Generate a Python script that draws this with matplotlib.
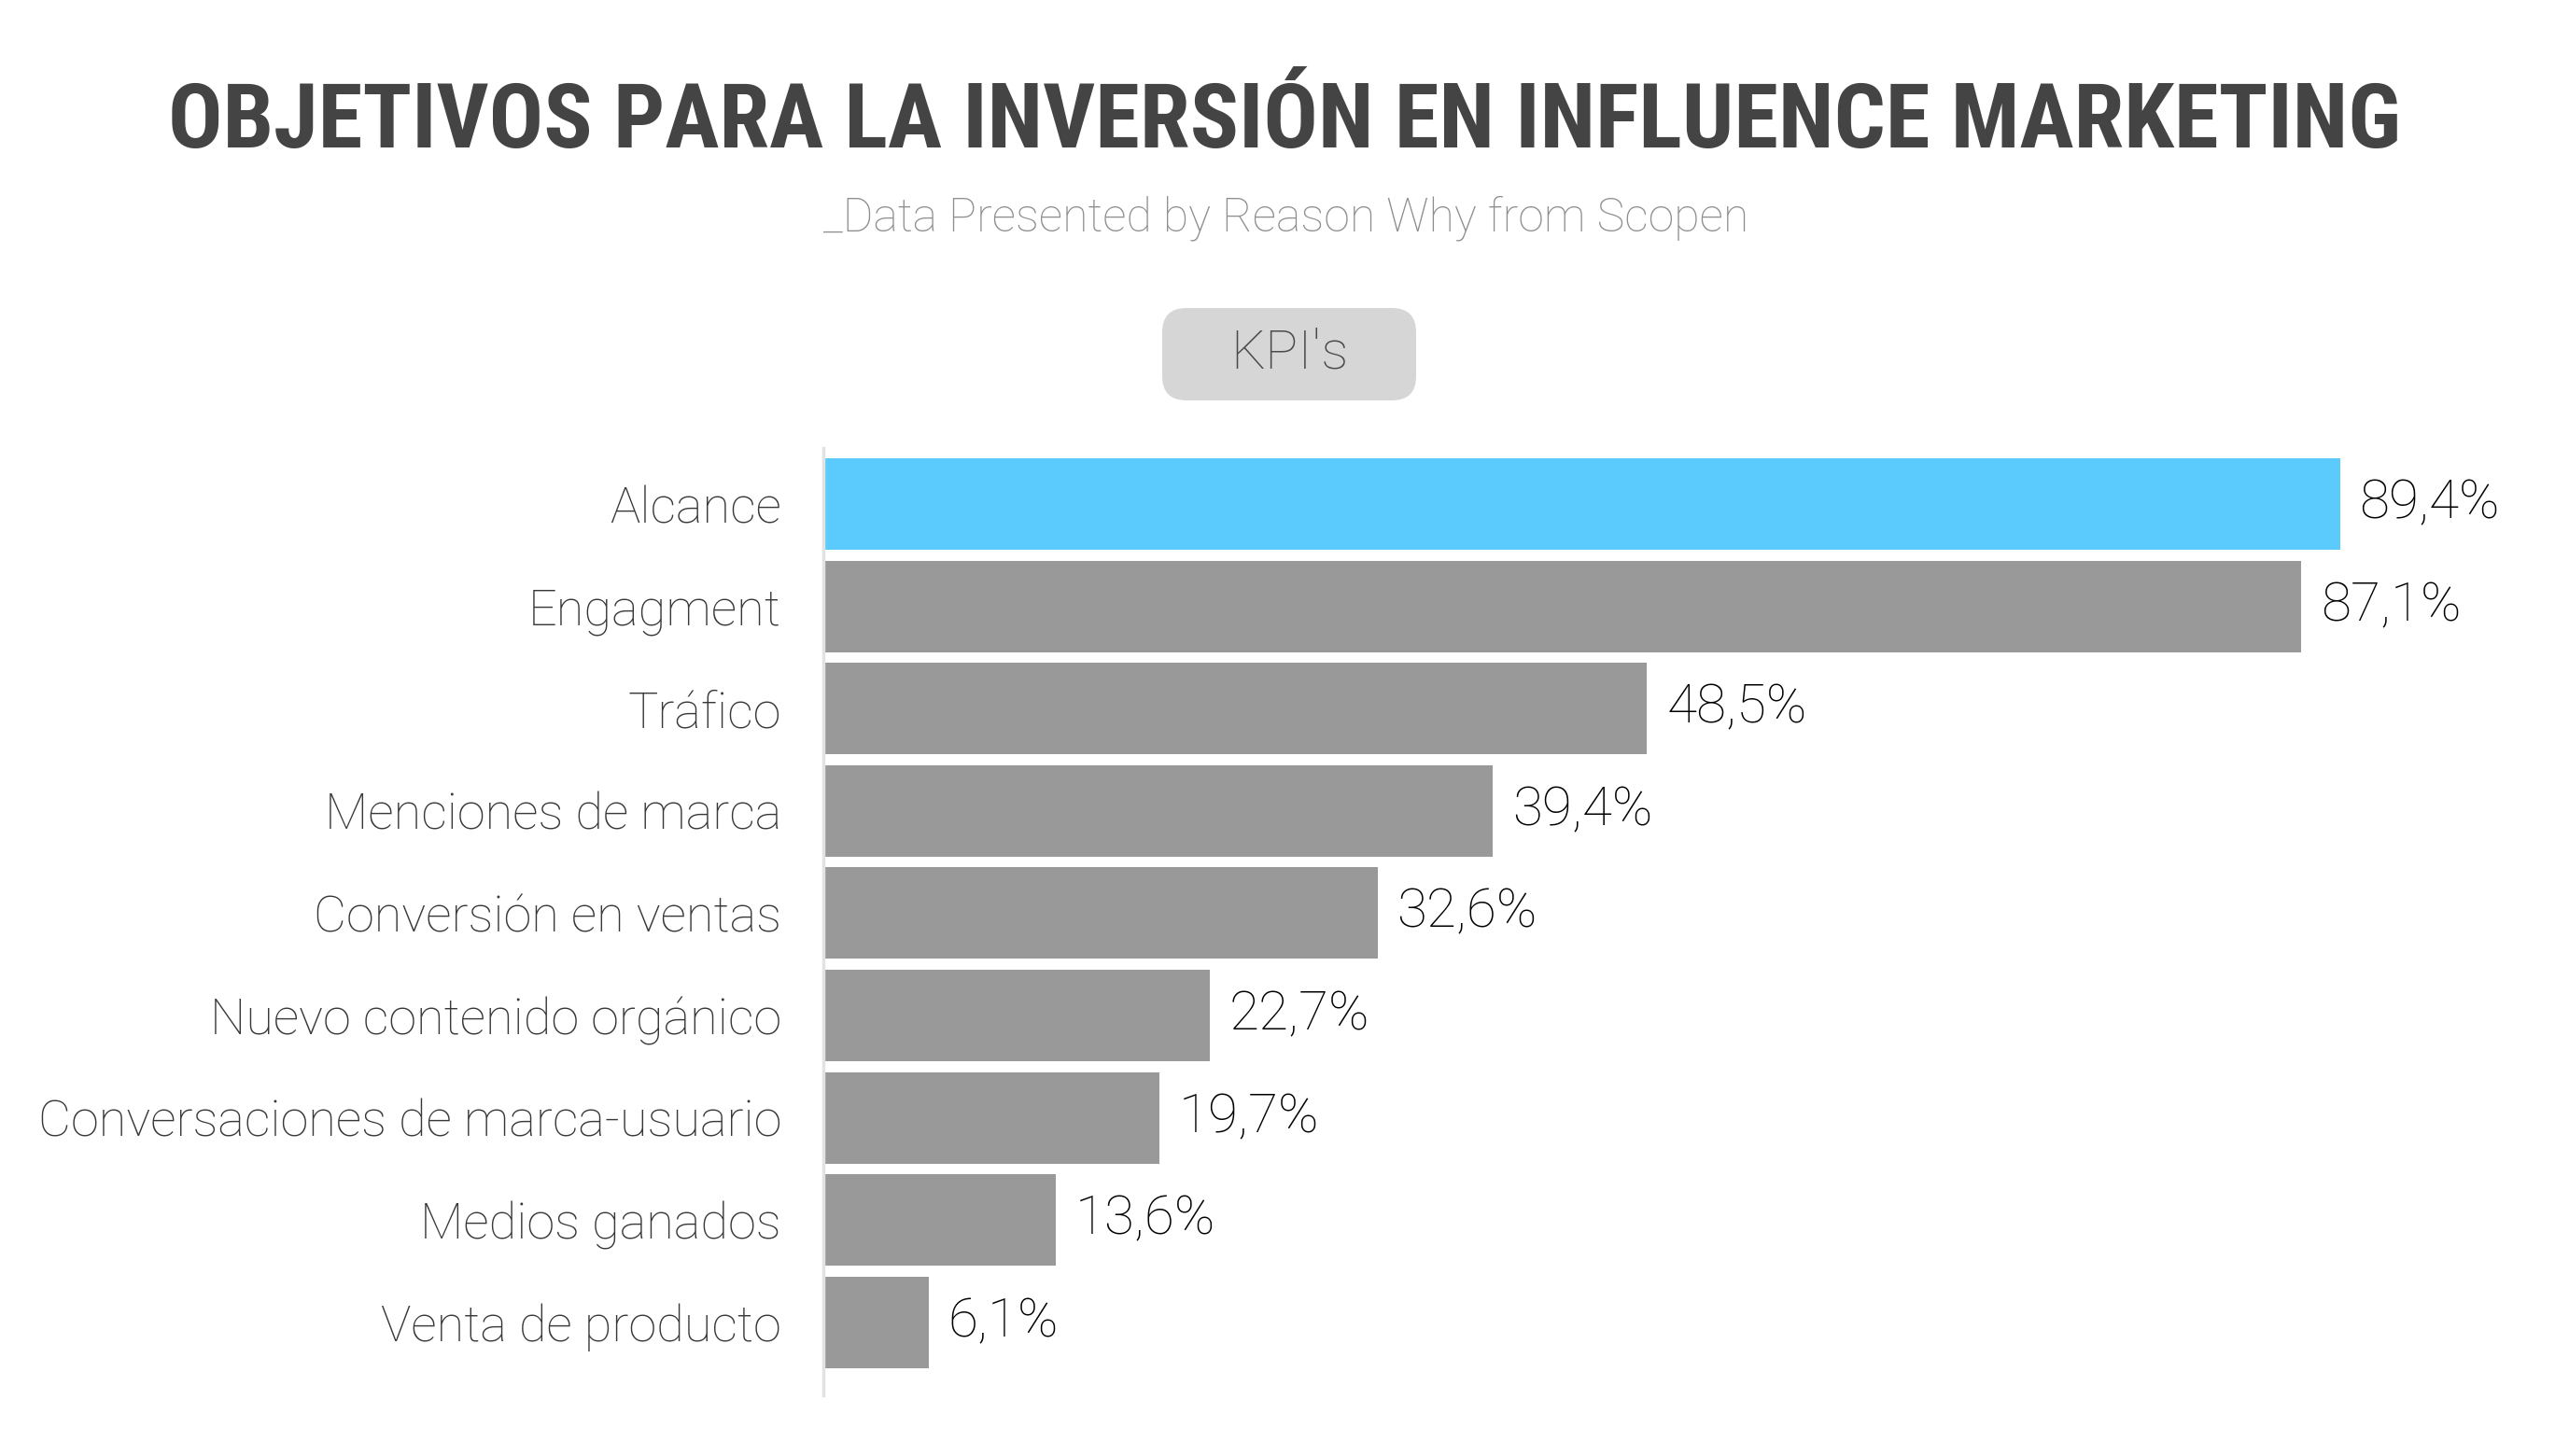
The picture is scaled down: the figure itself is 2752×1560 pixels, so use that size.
import matplotlib
matplotlib.use("Agg")
import matplotlib.pyplot as plt
from matplotlib.patches import FancyBboxPatch

# KPI data (percent of respondents)
categories = ["Alcance", "Engagment", "Tráfico", "Menciones de marca",
              "Conversión en ventas", "Nuevo contenido orgánico",
              "Conversaciones de marca-usuario", "Medios ganados",
              "Venta de producto"]
values = [89.4, 87.1, 48.5, 39.4, 32.6, 22.7, 19.7, 13.6, 6.1]
value_labels = ["89,4%", "87,1%", "48,5%", "39,4%", "32,6%",
                "22,7%", "19,7%", "13,6%", "6,1%"]

title = "OBJETIVOS PARA LA INVERSIÓN EN INFLUENCE MARKETING"
subtitle = "_Data Presented by Reason Why from Scopen"
box_label = "KPI's"

W, H = 2752, 1560
fig = plt.figure(figsize=(W / 100, H / 100), dpi=100)
fig.patch.set_facecolor("white")

def fx(px):
    return px / W

def fy(py):
    return 1 - py / H

body = dict(family=["Roboto", "DejaVu Sans"], weight="light")

# axes placed so that the spine sits at x=881 and spans y 480..1495
ax = fig.add_axes([fx(881.5), fy(1495), fx(2752 - 881.5), (1495 - 480) / H])
ypos = list(range(len(categories)))
colors = ["#5bcbfd"] + ["#999999"] * (len(values) - 1)
ax.barh(ypos, values, height=0.894, color=colors, left=0)
ax.set_xlim(-0.14, (2752 - 881.5) / 18.15 - 0.14)
ax.set_ylim(8.714, -0.547)

for spine in ["top", "right", "bottom"]:
    ax.spines[spine].set_visible(False)
ax.spines["left"].set_color("#e2e2e2")
ax.spines["left"].set_linewidth(2.5)
ax.set_xticks([])
ax.set_yticks(ypos)
ax.set_yticklabels(categories, fontsize=39, color="#383838", **body)
ax.tick_params(axis="y", length=0, pad=32)

for y, v, lab in zip(ypos, values, value_labels):
    ax.annotate(lab, (v, y), xytext=(15, 0), textcoords="offset points",
                va="center", ha="left", fontsize=42, color="#000000", **body)

# title, fitted to the reference width
t = fig.text(fx(1376), fy(158), title, ha="center", va="baseline",
             fontsize=86, color="#444444", weight="bold", stretch="condensed",
             family=["Roboto Condensed", "Open Sans Condensed", "DejaVu Sans"])
fig.canvas.draw()
w = t.get_window_extent().width
t.set_fontsize(86 * min(1.0, 2394 / w))

fig.text(fx(1378), fy(248), subtitle, ha="center", va="baseline",
         fontsize=36, color="#8e8e8e", **body)

# rounded KPI's box, drawn in inches so the corners stay round
bx0, bx1, by0, by1, r = 1245, 1517, 330, 429, 26
box = FancyBboxPatch(((bx0 + r) / 100, (H - by1 + r) / 100),
                     (bx1 - bx0 - 2 * r) / 100, (by1 - by0 - 2 * r) / 100,
                     boxstyle=f"round,pad={r / 100},rounding_size={r / 100}",
                     transform=fig.dpi_scale_trans, facecolor="#d6d6d6",
                     edgecolor="none")
fig.patches.append(box)
fig.text(fx((bx0 + bx1) / 2), fy(379), box_label, ha="center", va="center",
         fontsize=42, color="#4a4a4a", **body)

fig.savefig("out.png", dpi=100, facecolor="white")
